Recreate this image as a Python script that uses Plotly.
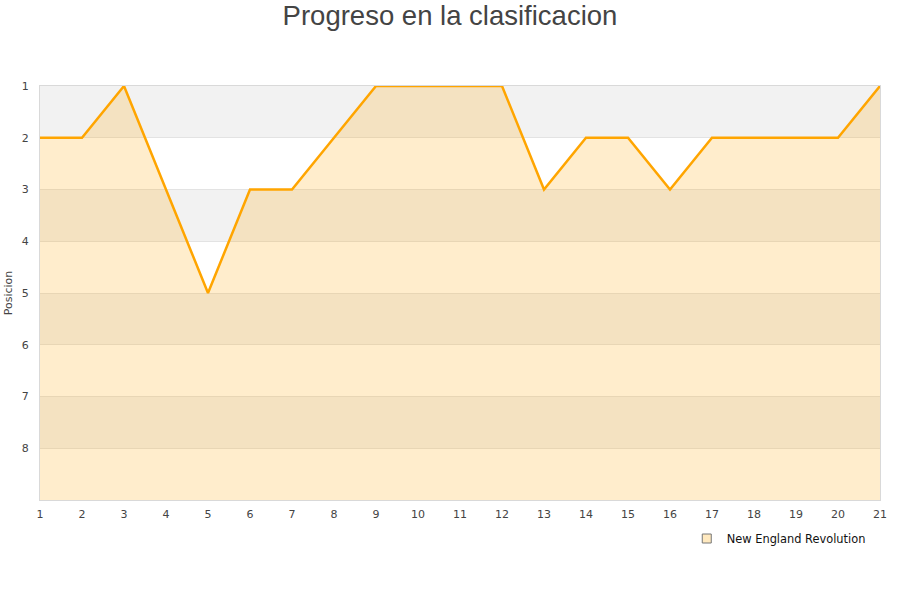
import plotly.graph_objects as go

jornadas = list(range(1, 22))
posiciones = [2, 2, 1, 3, 5, 3, 3, 2, 1, 1, 1, 1, 3, 2, 2, 3, 2, 2, 2, 2, 1]
equipo = "New England Revolution"
y_ticks = [1, 2, 3, 4, 5, 6, 7, 8]
band_starts = [1, 3, 5, 7]

fig = go.Figure()

# legend-only entry with square symbol
fig.add_trace(go.Scatter(
    x=[None], y=[None], mode="markers", name=equipo,
    marker=dict(symbol="square", size=9, color="#ffe9bf",
                line=dict(color="#777777", width=1)),
    showlegend=True,
))

fig.add_trace(go.Scatter(
    x=jornadas, y=[9] * len(jornadas), mode="lines",
    line=dict(width=0), showlegend=False, hoverinfo="skip",
))
fig.add_trace(go.Scatter(
    x=jornadas, y=posiciones, mode="lines", name=equipo,
    line=dict(color="#ffa500", width=2.5),
    fill="tonexty", fillcolor="rgba(255,165,0,0.2)",
    showlegend=False,
))

shapes = []
for b in band_starts:
    shapes.append(dict(type="rect", xref="paper", x0=0, x1=1, yref="y",
                       y0=b, y1=b + 1, fillcolor="#f2f2f2",
                       line=dict(width=0), layer="below"))

fig.update_layout(
    width=900, height=600,
    paper_bgcolor="white", plot_bgcolor="white",
    margin=dict(l=40, r=20, t=86, b=100, autoexpand=False),
    title=dict(text="Progreso en la clasificacion", x=0.5, xanchor="center",
               xref="container",
               y=0.975, yanchor="middle",
               font=dict(family="Liberation Sans, Arial", size=27.5, color="#444444")),
    font=dict(family="DejaVu Sans", size=11, color="#444444"),
    shapes=shapes,
    showlegend=True,
    legend=dict(orientation="h", x=0.989, xanchor="right", y=-0.058, yanchor="top",
                font=dict(family="DejaVu Sans", size=11.4, color="#111111"),
                bgcolor="rgba(0,0,0,0)"),
)

fig.update_xaxes(
    range=[1, 21], tickmode="array", tickvals=jornadas,
    showgrid=False, zeroline=False, automargin=False,
    showline=True, linecolor="#d9d9d9", linewidth=1, mirror=True,
    ticks="", ticklabelstandoff=4,
    tickfont=dict(family="DejaVu Sans", size=11, color="#444444"),
)
fig.update_yaxes(
    range=[9, 1], tickmode="array", tickvals=y_ticks,
    showgrid=True, gridcolor="#e3e3e3", gridwidth=1, zeroline=False,
    automargin=False,
    showline=True, linecolor="#d9d9d9", linewidth=1, mirror=True,
    ticks="", ticklabelstandoff=8,
    tickfont=dict(family="DejaVu Sans", size=11, color="#444444"),
    title=dict(text="Posicion", standoff=6,
               font=dict(family="DejaVu Sans", size=11, color="#444444")),
)

fig.write_html("out.html", config={"displayModeBar": False},
               post_script="document.body.style.margin='0px';")
